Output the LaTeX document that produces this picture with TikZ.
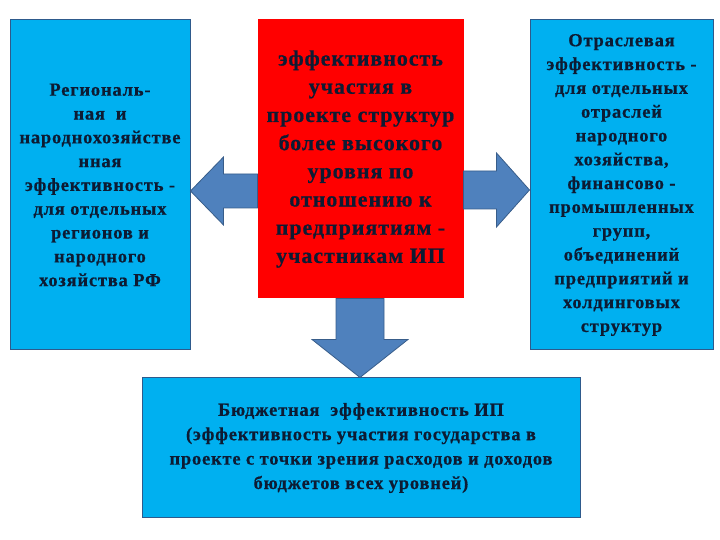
\documentclass[tikz,border=0pt]{standalone}
\usepackage{fontspec}
\setmainfont{Liberation Serif}
\usepackage{xcolor}
\usepackage{tikz}
\usetikzlibrary{calc}
\definecolor{boxblue}{HTML}{00B0F0}
\definecolor{boxline}{HTML}{2E5A8C}
\definecolor{arrowfill}{HTML}{4F81BD}
\definecolor{arrowline}{HTML}{385D8A}
\definecolor{textdark}{HTML}{0D1B33}
\newfontfamily\widefont[LetterSpace=4.5, UprightFont={* Bold}, FakeBold=0.6]{Liberation Serif}
\tikzset{
    effbox/.style={draw=boxline, fill=boxblue, line width=1pt, inner sep=0pt,
        align=center, text=textdark, font=\widefont\fontsize{18.5}{23.9}\selectfont},
    blockarrow/.style={draw=arrowline, fill=arrowfill, line width=0.8pt, line join=miter}
}
\begin{document}
\begin{tikzpicture}[x=1bp,y=1bp]
    \useasboundingbox (0,0) rectangle (720,540);

    % boxes
    \node[effbox, minimum width=180bp, minimum height=330bp] at (100,355) (reg)
        {Региональ-\\ная \ и\\народнохозяйстве\\нная\\эффективность -\\для отдельных\\регионов и\\народного\\хозяйства РФ};
    \node[effbox, fill=red, draw=red, minimum width=205bp, minimum height=278bp,
        font=\widefont\fontsize{22}{28.3}\selectfont] at (360.5,381) (eff)
        {эффективность\\участия в\\проекте структур\\более высокого\\уровня по\\отношению к\\предприятиям -\\участникам ИП};
    \node[effbox, minimum width=183bp, minimum height=330bp] at (621.5,355) (otr)
        {Отраслевая\\эффективность -\\для отдельных\\отраслей\\народного\\хозяйства,\\финансово -\\промышленных\\групп,\\объединений\\предприятий и\\холдинговых\\структур};
    \node[effbox, minimum width=438bp, minimum height=140bp,
        font=\widefont\fontsize{18.5}{24.5}\selectfont] at (361,92) (bud)
        {Бюджетная \ эффективность ИП\\(эффективность участия государства в\\проекте с точки зрения расходов и доходов\\бюджетов всех уровней)};

    % arrows
    \coordinate (ltip) at ($(reg.east)+(0,-6)$);
    \draw[blockarrow] ($(eff.west |- ltip)+(0,17)$) -- ($(ltip)+(33,17)$) -- ($(ltip)+(33,34)$)
        -- (ltip) -- ($(ltip)+(33,-34)$) -- ($(ltip)+(33,-17)$) -- ($(eff.west |- ltip)+(0,-17)$) -- cycle;

    \coordinate (rtip) at ($(otr.west)+(0,-5)$);
    \draw[blockarrow] ($(eff.east |- rtip)+(0,19)$) -- ($(rtip)+(-33,19)$) -- ($(rtip)+(-33,37)$)
        -- (rtip) -- ($(rtip)+(-33,-37)$) -- ($(rtip)+(-33,-19)$) -- ($(eff.east |- rtip)+(0,-19)$) -- cycle;

    \coordinate (dtip) at ($(bud.north)+(-1,0)$);
    \draw[blockarrow] ($(dtip |- eff.south)+(-24,0)$) -- ($(dtip)+(-24,38)$) -- ($(dtip)+(-48,38)$)
        -- (dtip) -- ($(dtip)+(48,38)$) -- ($(dtip)+(24,38)$) -- ($(dtip |- eff.south)+(24,0)$) -- cycle;
\end{tikzpicture}
\end{document}
